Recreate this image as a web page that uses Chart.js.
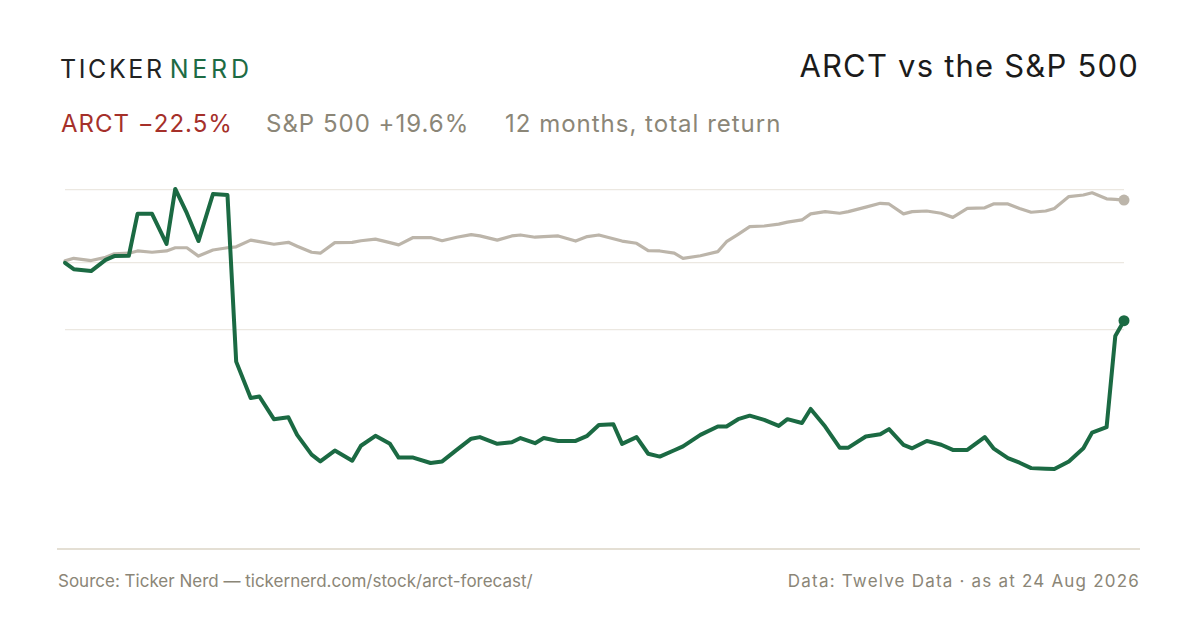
<!DOCTYPE html>
<html>
<head>
<meta charset="utf-8">
<script src="https://cdn.jsdelivr.net/npm/chart.js@4.4.1/dist/chart.umd.min.js"></script>
<style>
  html, body { margin: 0; padding: 0; background: #fff; }
  body { width: 1200px; height: 630px; position: relative; overflow: hidden; font-family: Inter, "Noto Sans", sans-serif; }
  .t { position: absolute; white-space: nowrap; line-height: 1; }
  #logo { left: 60px; top: 57px; font-size: 25px; letter-spacing: 2.6px; color: #222; }
  #logo span { color: #1d6b44; margin-left: 5px; letter-spacing: 3.8px; }
  #title { right: 61px; top: 50px; font-size: 31px; letter-spacing: 1.2px; color: #1b1b1b; }
  .sub { top: 112px; font-size: 24px; letter-spacing: 1px; color: #8b8677; }
  .foot { top: 573px; font-size: 17px; color: #8b8677; }
  #rule { position: absolute; left: 57px; width: 1083px; top: 548px; height: 2px; background: #e4dfd4; }
  #wrap { position: absolute; left: 0; top: 0; width: 1200px; height: 630px; }
</style>
</head>
<body>
<div class="t" id="logo">TICKER<span>NERD</span></div>
<div class="t" id="title">ARCT vs the S&amp;P 500</div>
<div class="t sub" style="left:61px;color:#a5302a;">ARCT −22.5%</div>
<div class="t sub" style="left:266px;">S&amp;P 500 +19.6%</div>
<div class="t sub" style="left:505px;">12 months, total return</div>
<div id="rule"></div>
<div class="t foot" style="left:58px;">Source: Ticker Nerd — tickernerd.com/stock/arct-forecast/</div>
<div class="t foot" style="right:60px;letter-spacing:1.2px;">Data: Twelve Data · as at 24 Aug 2026</div>
<div id="wrap"><canvas id="chart" width="1200" height="630"></canvas></div>
<script>
// calendar days since start of the 12-month window
const days = [0, 3, 9, 14, 17, 22, 25, 30, 35, 38, 42, 46, 51, 56, 59, 64, 67, 72, 77, 80,
    85, 88, 93, 99, 102, 107, 112, 115, 120, 126, 130, 135, 140, 143, 149, 154, 157, 162, 165, 170,
    176, 180, 184, 189, 192, 197, 201, 205, 210, 213, 219, 225, 228, 232, 236, 241, 246, 249, 254, 257,
    262, 267, 270, 276, 281, 284, 289, 292, 297, 302, 306, 311, 317, 320, 325, 329, 333, 338, 341, 346,
    351, 354, 359, 362, 365];

// % change from start
const arct = [-0.2, -2.2, -2.8, 0.7, 1.9, 2.0, 15.1, 15.1, 5.7, 22.9, 15.3, 6.6, 21.3, 21.0, -31.1, -42.5, -42.0, -49.1, -48.5, -54.0,
    -60.2, -62.3, -58.9, -62.1, -57.4, -54.3, -56.8, -61.1, -61.1, -62.8, -62.3, -58.7, -55.2, -54.7, -56.8, -56.3, -55.0, -56.6, -55.0, -55.9,
    -55.9, -54.3, -50.9, -50.7, -56.8, -54.7, -59.9, -60.8, -58.8, -57.6, -54.0, -51.4, -51.4, -49.1, -48.0, -49.3, -51.2, -49.1, -50.3, -45.9,
    -51.4, -58.0, -58.0, -54.5, -53.8, -52.2, -57.1, -58.2, -55.9, -57.1, -58.7, -58.7, -54.7, -58.2, -61.3, -62.7, -64.4, -64.6, -64.7, -62.3,
    -58.2, -53.3, -51.6, -23.1, -18.3];

const spx = [0.4, 1.2, 0.5, 1.5, 2.6, 2.8, 3.5, 3.1, 3.5, 4.5, 4.5, 1.9, 3.8, 4.5, 4.8, 6.9, 6.4, 5.6, 6.2, 5.0,
    3.1, 2.8, 6.1, 6.2, 6.7, 7.2, 6.1, 5.4, 7.7, 7.7, 6.7, 7.8, 8.6, 8.2, 6.9, 8.2, 8.5, 7.8, 8.0, 8.2,
    6.6, 8.0, 8.5, 7.3, 6.6, 5.9, 3.6, 3.5, 2.8, 1.2, 2.0, 3.3, 6.4, 8.7, 11.1, 11.3, 11.9, 12.5, 13.2, 15.1,
    15.8, 15.3, 15.8, 17.2, 18.4, 18.2, 15.1, 15.8, 16.0, 15.3, 14.0, 16.8, 17.0, 18.2, 18.2, 16.8, 15.6, 16.0, 16.8, 20.5,
    21.0, 21.7, 19.8, 19.6, 19.4];

const gridTicks = [22.7, 0, -21.1];

function toPoints(values) {
    return values.map((v, i) => ({ x: days[i], y: v }));
}

function lastDot(values, r) {
    return function (ctx) {
        return ctx.dataIndex === values.length - 1 ? r : 0;
    };
}

new Chart(document.getElementById("chart"), {
    type: "line",
    data: {
        datasets: [
            {
                label: "ARCT",
                data: toPoints(arct),
                borderColor: "#1b6a43",
                backgroundColor: "#1b6a43",
                borderWidth: 4,
                pointRadius: lastDot(arct, 5.5),
                pointBorderWidth: 0,
                borderJoinStyle: "round",
                borderCapStyle: "round",
                tension: 0
            },
            {
                label: "S&P 500",
                data: toPoints(spx),
                borderColor: "#bcb5aa",
                backgroundColor: "#bcb5aa",
                borderWidth: 3.2,
                pointRadius: lastDot(spx, 5.5),
                pointBorderWidth: 0,
                borderJoinStyle: "round",
                borderCapStyle: "round",
                tension: 0
            }
        ]
    },
    options: {
        responsive: false,
        animation: false,
        events: [],
        clip: false,
        layout: {
            padding: { left: 65, right: 76, top: 179, bottom: 80 }
        },
        plugins: {
            legend: { display: false },
            tooltip: { enabled: false }
        },
        scales: {
            x: {
                type: "linear",
                min: 0,
                max: 365,
                display: false
            },
            y: {
                min: -90,
                max: 26,
                afterBuildTicks: function (axis) {
                    axis.ticks = gridTicks.map(v => ({ value: v }));
                },
                ticks: { display: false },
                border: { display: false },
                grid: {
                    color: "#ece8e1",
                    lineWidth: 1.2,
                    drawTicks: false
                }
            }
        }
    }
});
</script>
</body>
</html>
